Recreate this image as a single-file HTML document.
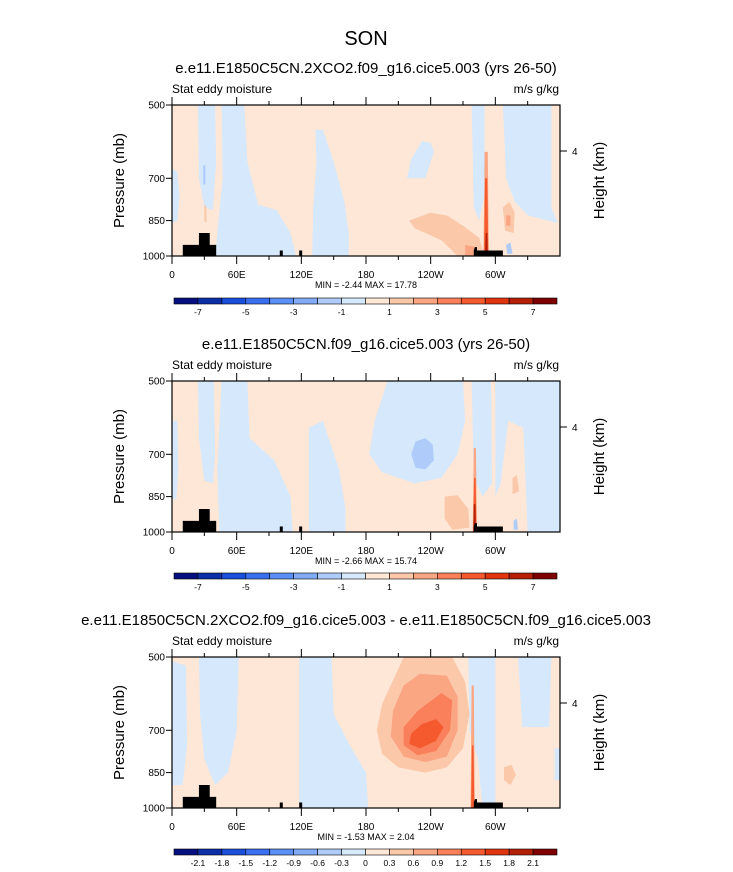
<!DOCTYPE html>
<html><head><meta charset="utf-8"><style>
body{margin:0;background:#fff;}
svg{display:block;font-family:"Liberation Sans",sans-serif;}
</style></head><body>
<svg id="fig" width="733" height="872" viewBox="0 0 733 872">
<text x="366" y="45" font-size="20" text-anchor="middle">SON</text>
</svg>
<script>
const levels12=["-7","-5","-3","-1","1","3","5","7"];
const levels3=["-2.1","-1.8","-1.5","-1.2","-0.9","-0.6","-0.3","0","0.3","0.6","0.9","1.2","1.5","1.8","2.1"];
const colors=["#05107e","#0a2fa8","#1a4fdc","#3a70ef","#5a8ff5","#82abf7","#aecbfa","#d6e8fb","#fee7d6","#fcc8aa","#fba683","#f9805a","#f55a2f","#e0350f","#b51f08","#7f0000"];
const lonTicks=[0,60,120,180,240,300];
const lonLabels=["0","60E","120E","180","120W","60W"];
const pTicks=[500,700,850,1000];
const titles=["e.e11.E1850C5CN.2XCO2.f09_g16.cice5.003 (yrs 26-50)","e.e11.E1850C5CN.f09_g16.cice5.003 (yrs 26-50)","e.e11.E1850C5CN.2XCO2.f09_g16.cice5.003 - e.e11.E1850C5CN.f09_g16.cice5.003"];
const minmax=["MIN =  -2.44  MAX =  17.78","MIN =  -2.66  MAX =  15.74","MIN =  -1.53  MAX =   2.04"];
// shaded regions per panel: [colorIndex, [[lon,p],...]]
const field1=[
 [7,[[0,670],[5,680],[7,760],[5,850],[0,860]]],
 [7,[[24,500],[40,500],[41,650],[38,810],[30,800],[25,700]]],
 [6,[[29,660],[31,660],[31,720],[29,720]]],
 [7,[[46,500],[67,500],[70,650],[80,790],[97,810],[110,900],[115,1000],[40,1000],[42,900],[47,700]]],
 [7,[[133,560],[140,560],[150,650],[160,780],[164,900],[164,1000],[130,1000],[131,800],[134,650]]],
 [7,[[218,700],[222,640],[232,590],[240,595],[243,620],[235,700]]],
 [7,[[278,500],[290,500],[290,750],[285,850],[280,800]]],
 [7,[[307,500],[352,500],[352,800],[358,860],[330,830],[318,780],[310,700]]],
 [6,[[310,950],[314,940],[316,990],[311,990]]],
 [9,[[220,850],[240,820],[255,830],[270,870],[285,920],[290,1000],[265,1000],[250,930],[225,880]]],
 [10,[[272,950],[282,960],[286,1000],[272,1000]]],
 [9,[[307,800],[313,780],[318,820],[317,900],[309,890]]],
 [10,[[310,830],[314,830],[314,870],[310,870]]],
 [10,[[290,620],[293,620],[294,1000],[289,1000]]],
 [12,[[290.5,700],[292.5,700],[293.5,1000],[289.5,1000]]],
 [14,[[291,900],[292.5,900],[293,1000],[290.5,1000]]],
 [9,[[30,790],[32,800],[32,860],[30,850]]]
];
const field2=[
 [7,[[0,600],[5,600],[6,750],[4,860],[0,860]]],
 [7,[[24,500],[39,500],[40,700],[38,800],[30,790],[25,650]]],
 [7,[[46,500],[70,500],[72,650],[95,720],[110,850],[112,1000],[44,1000],[42,750]]],
 [7,[[127,620],[140,600],[155,750],[161,900],[161,1000],[127,1000]]],
 [7,[[200,500],[270,500],[272,600],[265,700],[250,780],[225,800],[195,760],[183,700],[188,600]]],
 [6,[[226,660],[235,650],[242,670],[243,720],[235,750],[226,745],[222,700]]],
 [7,[[278,500],[296,500],[297,800],[288,850],[280,780]]],
 [7,[[300,500],[360,500],[360,1000],[330,1000],[326,620],[312,600],[305,800],[300,850]]],
 [6,[[317,950],[320,940],[321,990],[317,990]]],
 [9,[[253,850],[265,845],[275,900],[276,980],[260,990],[253,940]]],
 [9,[[316,780],[320,770],[322,830],[316,840]]],
 [10,[[280,680],[282,680],[283,1000],[279,1000]]],
 [12,[[280.3,780],[281.7,780],[282.5,1000],[279.5,1000]]],
 [14,[[280,880],[281.5,880],[282,1000],[279.5,1000]]]
];
const field3=[
 [7,[[0,510],[13,520],[14,750],[10,900],[0,900]]],
 [7,[[25,500],[62,500],[60,700],[52,850],[40,900],[30,800],[26,650]]],
 [7,[[118,500],[148,500],[150,650],[165,750],[180,850],[182,1000],[118,1000]]],
 [7,[[275,500],[300,500],[300,1000],[288,1000],[284,800],[276,700]]],
 [7,[[321,500],[352,500],[350,690],[325,690]]],
 [7,[[355,760],[360,760],[360,880],[355,880]]],
 [9,[[215,500],[260,500],[272,560],[276,650],[270,760],[255,830],[235,850],[210,830],[195,780],[190,700],[195,620]]],
 [10,[[230,540],[255,545],[265,600],[265,700],[255,790],[235,810],[215,790],[203,720],[205,640],[215,570]]],
 [11,[[250,590],[260,610],[258,700],[245,770],[228,785],[215,750],[215,690],[228,640]]],
 [12,[[245,665],[252,690],[245,735],[230,760],[220,745],[222,710],[232,680]]],
 [9,[[308,830],[315,820],[319,860],[314,900],[308,880]]],
 [10,[[278,570],[280,570],[281,1000],[277,1000]]],
 [12,[[278.3,750],[279.7,750],[280.5,1000],[277.5,1000]]]
];
const topo=[[10,950],[25,950],[25,900],[35,900],[35,950],[41,950],[41,1000],[10,1000]];
const topoR=[[280,975],[281,960],[283,960],[283,975],[307,975],[307,1000],[280,1000]];
const panels=[
 {top:105,title:titles[0],field:field1,labels:levels12,mm:minmax[0],cb:298},
 {top:381,title:titles[1],field:field2,labels:levels12,mm:minmax[1],cb:573},
 {top:657,title:titles[2],field:field3,labels:levels3,mm:minmax[2],cb:849}
];
const NS="http://www.w3.org/2000/svg";
const svg=document.getElementById("fig");
const L=172,W=388,H=151;
function mk(tag,at,parent){const e=document.createElementNS(NS,tag);for(const k in at)e.setAttribute(k,at[k]);(parent||svg).appendChild(e);return e;}
function xs(lon){return L+lon*W/360;}
function ysF(top){return p=>top+(Math.log(p)-Math.log(500))/(Math.log(1000)-Math.log(500))*H;}
panels.forEach((pn,i)=>{
 const g=mk("g",{});
 
 
 const ys=ysF(pn.top);
 const t=mk("text",{x:366,y:pn.top-32,"font-size":15,"text-anchor":"middle"},g);t.textContent=pn.title;
 
 
 const lt=mk("text",{x:L,y:pn.top-12,"font-size":12},g);lt.textContent="Stat eddy moisture";
 
 
 const rt=mk("text",{x:L+W-1,y:pn.top-12,"font-size":12,"text-anchor":"end"},g);rt.textContent="m/s g/kg";
 
 
 const bg=mk("rect",{x:L,y:pn.top,width:W,height:H,fill:colors[8]},g);
 
 
 pn.field.forEach(([c,pts])=>{
  const pg=mk("polygon",{points:pts.map(q=>xs(q[0])+","+ys(q[1])).join(" "),fill:colors[c]},g);
  
  
 });
 [topo,topoR].forEach(tp=>{const e=mk("polygon",{points:tp.map(q=>xs(q[0])+","+ys(q[1])).join(" "),fill:"#000"},g);
  
  });
 [100,118].forEach(lon=>{const e=mk("rect",{x:xs(lon),y:ys(975),width:3,height:ys(1000)-ys(975),fill:"#000"},g);
  
  });
 mk("rect",{x:L,y:pn.top,width:W,height:H,fill:"none",stroke:"#000","stroke-width":1.2},g);
 for(let lon=0;lon<360;lon+=30){const major=lon%60===0;const len=major?8:4;
  mk("line",{x1:xs(lon),x2:xs(lon),y1:pn.top+H,y2:pn.top+H+len,stroke:"#000"},g);
  mk("line",{x1:xs(lon),x2:xs(lon),y1:pn.top,y2:pn.top-len,stroke:"#000"},g);}
 lonTicks.forEach((lon,k)=>{const e=mk("text",{x:xs(lon),y:pn.top+H+22,"font-size":10,"text-anchor":"middle"},g);e.textContent=lonLabels[k];
  
  });
 pTicks.forEach(p=>{mk("line",{x1:L,x2:L-6,y1:ys(p),y2:ys(p),stroke:"#000"},g);
  const e=mk("text",{x:L-7,y:ys(p)+3.5,"font-size":10,"text-anchor":"end"},g);e.textContent=p;
  
  });
 const hy=pn.top+46;
 mk("line",{x1:L+W,x2:L+W+7,y1:hy,y2:hy,stroke:"#000"},g);
 const h4=mk("text",{x:L+W+12,y:hy+4,"font-size":10},g);h4.textContent="4";
 
 
 const ya=mk("text",{x:0,y:0,"font-size":15,"text-anchor":"middle",transform:`translate(124,${pn.top+H/2}) rotate(-90)`},g);ya.textContent="Pressure (mb)";
 
 
 const ha=mk("text",{x:0,y:0,"font-size":15,"text-anchor":"middle",transform:`translate(604,${pn.top+H/2}) rotate(-90)`},g);ha.textContent="Height (km)";
 
 
 const mm=mk("text",{x:366,y:pn.top+H+32,"font-size":9,"text-anchor":"middle","xml:space":"preserve"},g);mm.textContent=pn.mm;
 
 
 const cbx=174,cbw=383/16;
 colors.forEach((c,k)=>{const r=mk("rect",{x:cbx+k*cbw,y:pn.cb,width:cbw,height:6,fill:c,stroke:"#000","stroke-width":0.6},g);
  
  });
 const step=pn.labels.length===8?2:1;
 pn.labels.forEach((lb,k)=>{const e=mk("text",{x:cbx+(1+k*step)*cbw,y:pn.cb+17,"font-size":8.5,"text-anchor":"middle"},g);e.textContent=lb;
  
  });
});
</script>
</body></html>
